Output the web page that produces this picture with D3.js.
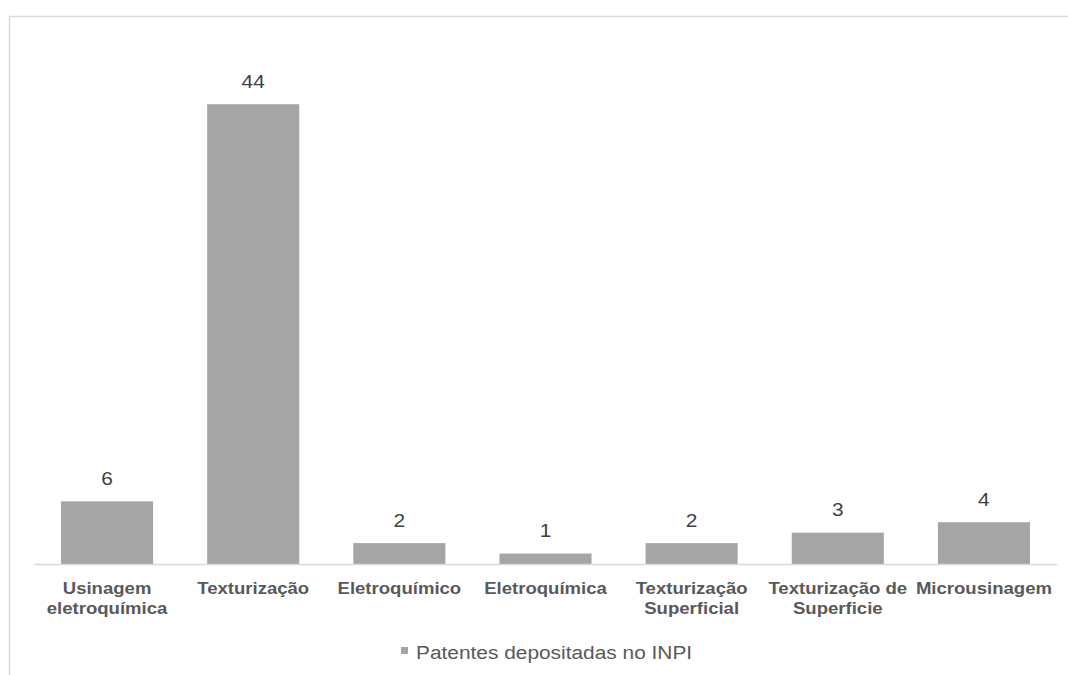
<!DOCTYPE html>
<html>
<head>
<meta charset="utf-8">
<script src="https://cdn.jsdelivr.net/npm/d3@7"></script>
<style>
  html, body { margin: 0; padding: 0; background: #ffffff; }
  svg { display: block; }
</style>
</head>
<body>
<svg id="chart" width="1068" height="675"></svg>
<script>
// Categories (each entry is the list of lines of its axis label)
const categories = [
  ["Usinagem", "eletroquímica"],
  ["Texturização"],
  ["Eletroquímico"],
  ["Eletroquímica"],
  ["Texturização", "Superficial"],
  ["Texturização de", "Superficie"],
  ["Microusinagem"]
];
const values = [6, 44, 2, 1, 2, 3, 4];
const seriesName = "Patentes depositadas no INPI";
const yDomain = [0, 50];

const svg = d3.select("#chart");
const W = 1068, H = 675;
const stretch = 1.16; // horizontal text scale

const plot = { left: 34, right: 1057, top: 41.5, bottom: 564 };

// Chart frame
svg.append("rect")
  .attr("x", 9.5).attr("y", 16.5)
  .attr("width", 1100).attr("height", 700)
  .attr("fill", "none")
  .attr("stroke", "#d9d9d9")
  .attr("stroke-width", 1.5);

const keys = categories.map((c, i) => i);
const x = d3.scaleBand()
  .domain(keys)
  .range([plot.left, plot.right])
  .paddingInner(0.37)
  .paddingOuter(0.185);

const y = d3.scaleLinear()
  .domain(yDomain)
  .range([plot.bottom, plot.top]);

// Bars
svg.append("g")
  .selectAll("rect")
  .data(values)
  .join("rect")
  .attr("x", (d, i) => x(i))
  .attr("y", d => y(d))
  .attr("width", x.bandwidth())
  .attr("height", d => y(0) - y(d))
  .attr("fill", "#a5a5a5");

// Category axis
const xAxis = d3.axisBottom(x).tickSize(0).tickFormat("");
const gx = svg.append("g")
  .attr("transform", `translate(0,${plot.bottom})`)
  .call(xAxis);
gx.select(".domain").attr("stroke", "#d9d9d9").attr("stroke-width", 1.5);

// Category labels
const labels = svg.append("g")
  .attr("font-family", "'Liberation Sans', Arial, sans-serif")
  .attr("font-size", 16)
  .attr("font-weight", "bold")
  .attr("fill", "#595959")
  .attr("text-anchor", "middle");

categories.forEach((lines, i) => {
  const cx = x(i) + x.bandwidth() / 2;
  lines.forEach((line, j) => {
    labels.append("text")
      .attr("transform", `translate(${cx},${594 + j * 20}) scale(${stretch},1)`)
      .text(line);
  });
});

// Value labels
svg.append("g")
  .attr("font-family", "'Liberation Sans', Arial, sans-serif")
  .attr("font-size", 18)
  .attr("fill", "#404040")
  .attr("text-anchor", "middle")
  .selectAll("text")
  .data(values)
  .join("text")
  .attr("transform", (d, i) => `translate(${x(i) + x.bandwidth() / 2},${y(d) - 16.5}) scale(${stretch},1)`)
  .text(d => d);

// Legend
const legend = svg.append("g");
legend.append("rect")
  .attr("x", 401).attr("y", 647)
  .attr("width", 7).attr("height", 7)
  .attr("fill", "#a5a5a5");
legend.append("text")
  .attr("transform", `translate(416,658.5) scale(${stretch},1)`)
  .attr("font-family", "'Liberation Sans', Arial, sans-serif")
  .attr("font-size", 18)
  .attr("fill", "#595959")
  .text(seriesName);
</script>
</body>
</html>
